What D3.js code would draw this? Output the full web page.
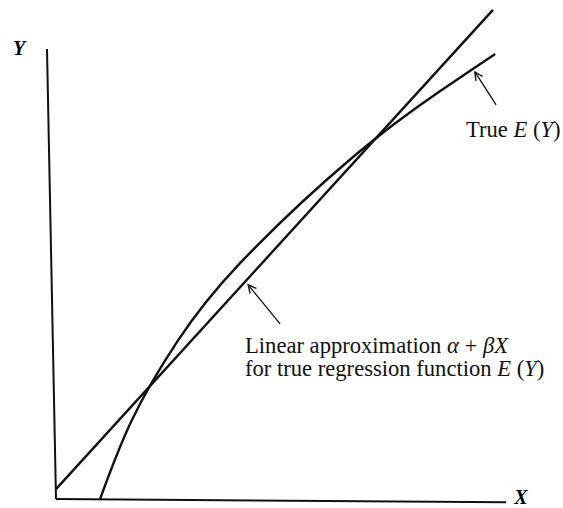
<!DOCTYPE html>
<html>
<head>
<meta charset="utf-8">
<script src="https://cdn.jsdelivr.net/npm/d3@7"></script>
<style>
  body { margin: 0; background: #fff; }
</style>
</head>
<body>
<div id="chart"></div>
<script>
// Size of the drawing
const width = 563
const height = 508
const serif = "'Liberation Serif', 'DejaVu Serif', serif"

// True E(Y) (concept units, 0..10)
const curveX = [0.98, 1.69, 2.69, 4.09, 6.6, 8.53, 9.76]
const curveY = [0, 1.76, 3.49, 5.24, 7.6, 9.06, 9.89]

// Linear approximation alpha + beta X (two end points)
const lineX = [0, 9.71]
const lineY = [0.22, 10.87]

// Labels
const axisLabels = ["X", "Y"]
const trueLabel = ["True ", "E", " (", "Y", ")"]
const linLabel1 = ["Linear approximation ", "\u03B1", " + ", "\u03B2X"]
const linLabel2 = ["for true regression function ", "E", " (", "Y", ")"]

const svg = d3.select("#chart")
    .append("svg")
    .attr("width", width)
    .attr("height", height)

const x = d3.scaleLinear().domain([0, 10]).range([56, 506])
const y = d3.scaleLinear().domain([0, 10]).range([499, 49])

// axes (the scan is a bit skewed, so the Y axis leans slightly)
svg.append("line")
    .attr("x1", x(-0.2)).attr("y1", y(10))
    .attr("x2", x(0)).attr("y2", y(0))
    .attr("stroke", "#111").attr("stroke-width", 2)
svg.append("line")
    .attr("x1", x(0)).attr("y1", y(0))
    .attr("x2", x(10)).attr("y2", y(-0.07))
    .attr("stroke", "#111").attr("stroke-width", 2)

svg.append("text")
    .attr("x", 521).attr("y", 504)
    .attr("text-anchor", "middle")
    .attr("font-family", serif)
    .style("font-size", "20px").style("font-style", "italic").style("font-weight", "bold")
    .text(axisLabels[0])
svg.append("text")
    .attr("x", 19).attr("y", 55)
    .attr("text-anchor", "middle")
    .attr("font-family", serif)
    .style("font-size", "20px").style("font-style", "italic").style("font-weight", "bold")
    .text(axisLabels[1])

// straight line
svg.append("path")
    .datum(d3.zip(lineX, lineY))
    .attr("d", d3.line().x(d => x(d[0])).y(d => y(d[1])))
    .attr("fill", "none")
    .attr("stroke", "#111")
    .attr("stroke-width", 2.4)

// true regression curve
svg.append("path")
    .datum(d3.zip(curveX, curveY))
    .attr("d", d3.line().x(d => x(d[0])).y(d => y(d[1])).curve(d3.curveNatural))
    .attr("fill", "none")
    .attr("stroke", "#111")
    .attr("stroke-width", 2.4)

// open arrow heads
svg.append("defs").append("marker")
    .attr("id", "head")
    .attr("viewBox", "-10 -6 12 12")
    .attr("refX", 0).attr("refY", 0)
    .attr("markerUnits", "userSpaceOnUse")
    .attr("markerWidth", 12).attr("markerHeight", 12)
    .attr("orient", "auto")
    .append("path")
    .attr("d", "M-8,-4 L0,0 L-8,4")
    .attr("fill", "none")
    .attr("stroke", "#111")
    .attr("stroke-width", 1.4)

// pointers: from the label towards the curve
function pointer(tx, ty, hx, hy) {
    svg.append("line")
        .attr("x1", x(tx)).attr("y1", y(ty))
        .attr("x2", x(hx)).attr("y2", y(hy))
        .attr("stroke", "#111")
        .attr("stroke-width", 1.3)
        .attr("marker-end", "url(#head)")
}
pointer(9.78, 8.76, 9.31, 9.49)
pointer(4.98, 3.89, 4.27, 4.76)

function label(parts, italicIdx, tx, ty) {
    const t = svg.append("text")
        .attr("x", tx).attr("y", ty)
        .attr("font-family", serif)
        .attr("fill", "#111")
        .style("font-size", "22.6px")
    parts.forEach(function (p, i) {
        t.append("tspan")
            .style("font-style", italicIdx.includes(i) ? "italic" : "normal")
            .text(p)
    })
}
label(trueLabel, [1, 3], 466, 137)
label(linLabel1, [1, 3], 245, 353)
label(linLabel2, [1, 3], 245, 376)
</script>
</body>
</html>
